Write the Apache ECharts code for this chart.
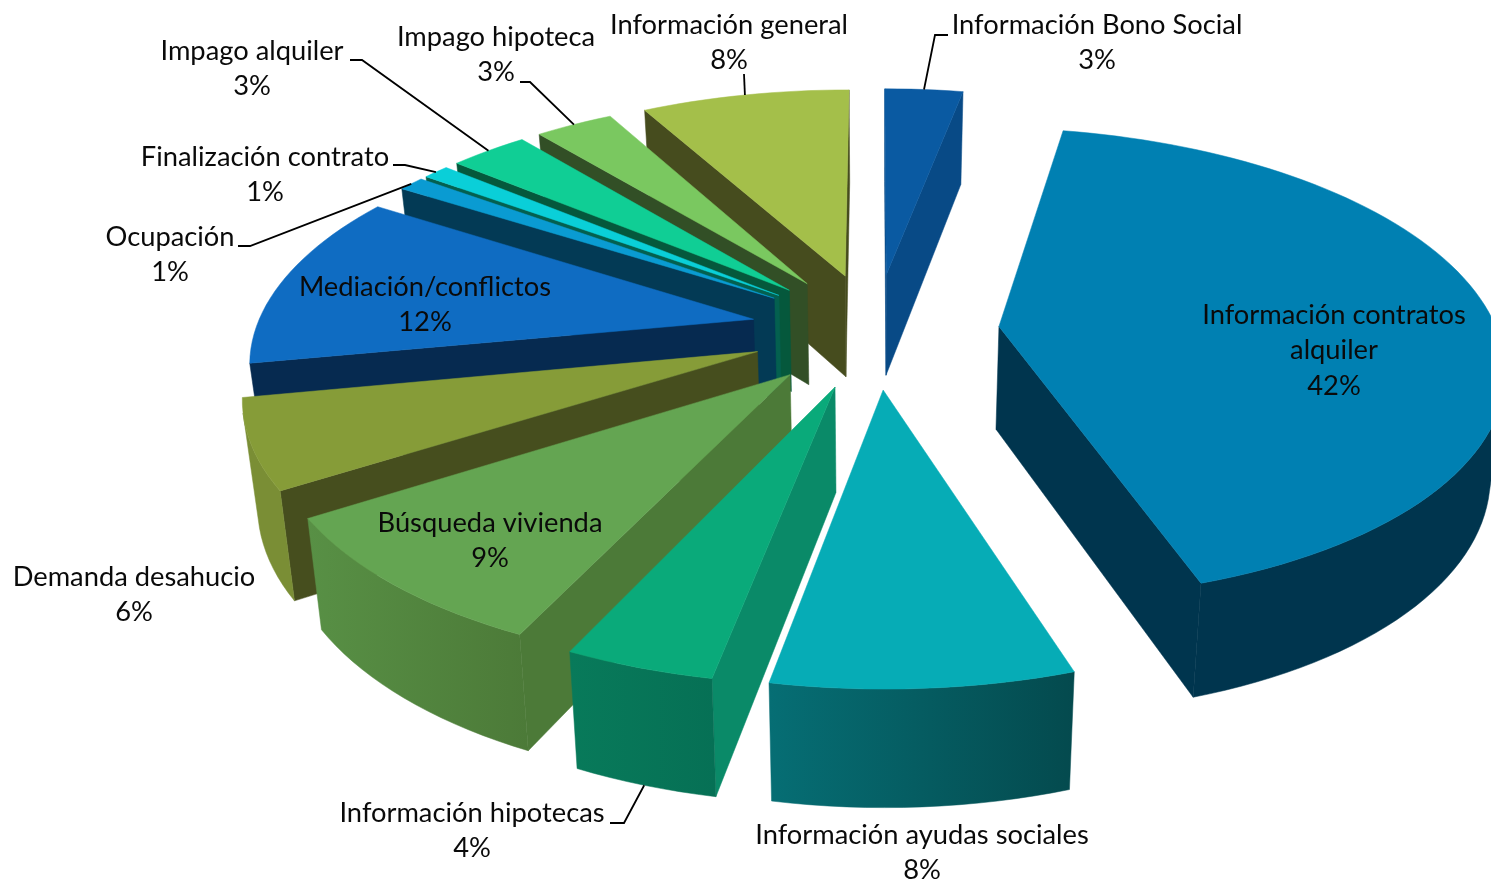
<!DOCTYPE html>
<html><head><meta charset="utf-8">
<style>html,body{margin:0;padding:0;background:#fff}#c{width:1491px;height:881px}</style>
<script src="https://cdn.jsdelivr.net/npm/echarts@6/dist/echarts.min.js"></script>
</head><body><div id="c"></div>
<script>
// ---- data (clockwise from 12 o'clock) ----
const categories = ['Información Bono Social','Información contratos\nalquiler','Información ayudas sociales','Información hipotecas','Búsqueda vivienda','Demanda desahucio','Mediación/conflictos','Ocupación','Finalización contrato','Impago alquiler','Impago hipoteca','Información general'];
const values = [3,42,8,4,9,6,12,1,1,3,3,8];
// ---- styles ----
const topColors = ['#0A5AA2','#0080B2','#06ACB6','#0AAA7A','#64A552','#869C38','#0F6CC2','#0A9BD2','#0ACFD8','#10CE95','#7AC860','#A4BF4A'];
const wallColors = ['#084A86','#00354E','#055A60','#0A8A68','#4C7A38','#464E1E','#062A50','#033A55','#04604F','#05583C','#324F26','#464C1E'];
const outerLeft = ['#084A86','#00354E','#066E74','#087A5A','#589045','#7A8E35','#062A50','#033A55','#04604F','#05583C','#324F26','#464C1E'];
const outerRight = ['#084A86','#00354E','#044A4E','#067055','#4C7A38','#7A8E35','#062A50','#033A55','#04604F','#05583C','#324F26','#464C1E'];
// ---- label layout: centre x, centre y of the block ----
const labelCentres = [[1097,42.5],[1334,350.5],[922,852.5],[472,830.5],[490,540.5],[134,594.5],[425,304.5],[170,254.5],[265,174.5],[252,68.5],[496,54.5],[729,42.5]];
// leader: index -> start, elbow, which plane the anchor lies on
const leaders = [
  {i:0, pts:[[948,35],[935,35]], z:0},
  {i:3, pts:[[610,823],[624,823]], z:1},
  {i:7, pts:[[238,246],[250,246]], z:0},
  {i:8, pts:[[393,165],[405,165]], z:0},
  {i:9, pts:[[350,60],[362,60]], z:0},
  {i:10,pts:[[520,82],[530,82]], z:0},
  {i:11,pts:[[744,74],[744,74]], z:0}
];
// ---- projection of the tilted disc ----
const CX=875, P=0.157, EXPLODE=0.25, A=[498,486], B=[231,241], CY=[330,433];
const total = values.reduce((a,b)=>a+b,0);
const starts = []; values.reduce((acc,v,i)=>{starts[i]=acc; return acc+v;},0);
const rad = v => v/total*2*Math.PI;
function project(u,w,z){const d=1+P*w; return [CX+A[z]*u/d, CY[z]-B[z]*w/d];}
function pt(i,theta,r,z){
  const mid=rad(starts[i]+values[i]/2);
  return project(EXPLODE*Math.sin(mid)+r*Math.sin(theta), EXPLODE*Math.cos(mid)+r*Math.cos(theta), z);
}
function area(p){let s=0;for(let i=0;i<p.length;i++){const q=p[(i+1)%p.length];s+=p[i][0]*q[1]-q[0]*p[i][1];}return s;}
function poly(points,fill,z2){return {type:'polygon',shape:{points},z2,style:{fill,stroke:fill,lineWidth:0.5}};}
const backOrder = values.map((v,i)=>i).sort((a,b)=>Math.cos(rad(starts[b]+values[b]/2))-Math.cos(rad(starts[a]+values[a]/2)));

function renderSlice(params){
  const i=params.dataIndex, rank=backOrder.indexOf(i)*10;
  const t0=rad(starts[i]), t1=rad(starts[i]+values[i]), N=Math.max(4,Math.ceil(values[i]*2));
  const at=[],ab=[];
  for(let k=0;k<=N;k++){const t=t0+(t1-t0)*k/N; at.push(pt(i,t,1,0)); ab.push(pt(i,t,1,1));}
  const apexT=pt(i,0,0,0), apexB=pt(i,0,0,1), ch=[];
  const w1=[at[0],apexT,apexB,ab[0]], w2=[apexT,at[N],ab[N],apexB];
  if(area(w1)>0) ch.push(poly(w1,wallColors[i],rank+1));
  if(area(w2)>0) ch.push(poly(w2,wallColors[i],rank+1));
  // visible runs of the outer wall
  let run=null; const grad=new echarts.graphic.LinearGradient(0,0,1,0,[{offset:0,color:outerLeft[i]},{offset:1,color:outerRight[i]}]);
  const flush=()=>{ if(run){ const pts=run.t.concat(run.b.slice().reverse()); ch.push(poly(pts,grad,rank+2)); run=null; } };
  for(let k=0;k<N;k++){
    const vis=area([at[k+1],at[k],ab[k],ab[k+1]])>0;
    if(vis){ if(!run) run={t:[at[k]],b:[ab[k]]}; run.t.push(at[k+1]); run.b.push(ab[k+1]); } else flush();
  }
  flush();
  ch.push(poly([apexT].concat(at),topColors[i],rank+3));
  return {type:'group',children:ch};
}
function renderLabel(params){
  const i=params.dataIndex, c=labelCentres[i], ch=[];
  ch.push({type:'text',z2:500,style:{text:categories[i]+'\n'+values[i]+'%',x:c[0],y:c[1],align:'center',verticalAlign:'middle',fontFamily:'Lato',fontSize:27.3,lineHeight:35.5,fill:'#0a0a0a'}});
  const l=leaders.find(d=>d.i===i);
  if(l){
    const mid=rad(starts[i]+values[i]/2);
    ch.push({type:'polyline',z2:400,shape:{points:l.pts.concat([pt(i,mid,1,l.z)])},style:{stroke:'#000',lineWidth:1.8,fill:null}});
  }
  return {type:'group',children:ch};
}
const chart=echarts.init(document.getElementById('c'),null,{renderer:'canvas'});
chart.setOption({
  animation:false,backgroundColor:'#fff',
  series:[
    {type:'custom',name:'Consultas',coordinateSystem:'none',silent:true,z:2,renderItem:renderSlice,data:values.map((v,i)=>({name:categories[i],value:[v]}))},
    {type:'custom',name:'Etiquetas',coordinateSystem:'none',silent:true,z:3,renderItem:renderLabel,data:values.map((v,i)=>({name:categories[i],value:[v]}))}
  ]
});
</script></body></html>
